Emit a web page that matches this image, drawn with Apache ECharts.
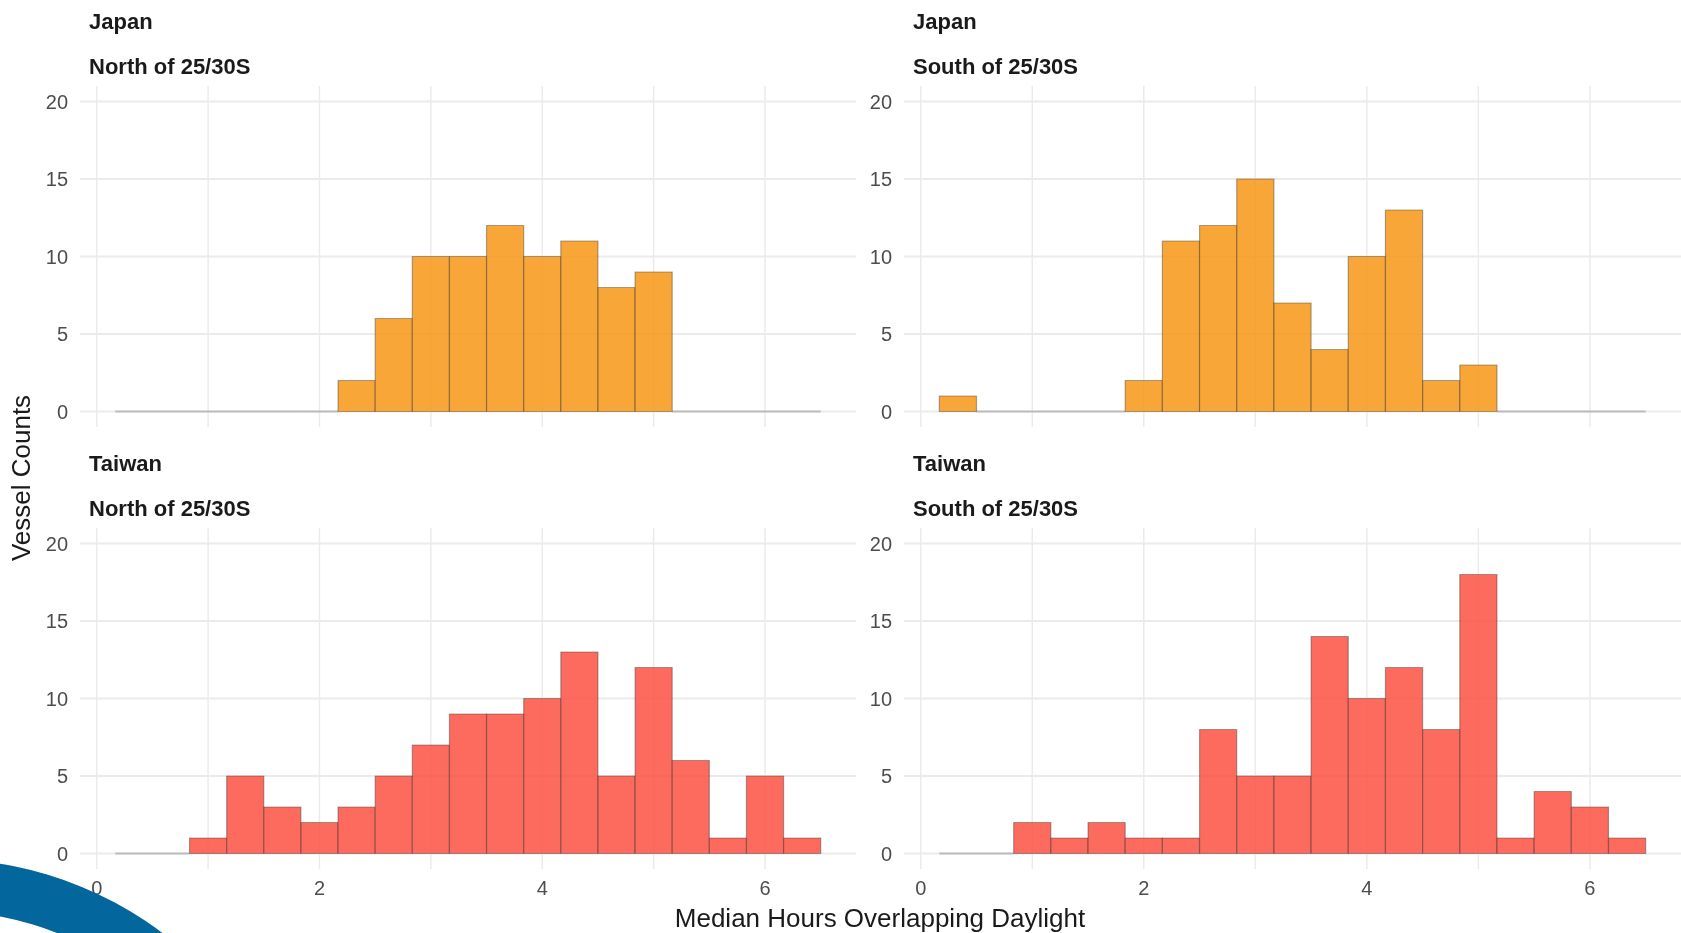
<!DOCTYPE html>
<html>
<head>
<meta charset="utf-8">
<script src="https://cdn.jsdelivr.net/npm/echarts@6/dist/echarts.min.js"></script>
<style>
  html, body { margin: 0; padding: 0; background: #ffffff; }
  #chart { width: 1681px; height: 933px; }
</style>
</head>
<body>
<div id="chart"></div>
<script>
// Histogram bins: each bin is 1/3 hour wide, the first one starts at 1/6 hour
const binStart = 1 / 6;
const binWidth = 1 / 3;

// Vessel counts per bin (19 bins, 1/6 h .. 6.5 h)
const japanNorth  = [0, 0, 0, 0, 0, 0, 2, 6, 10, 10, 12, 10, 11, 8, 9, 0, 0, 0, 0];
const japanSouth  = [1, 0, 0, 0, 0, 2, 11, 12, 15, 7, 4, 10, 13, 2, 3, 0, 0, 0, 0];
const taiwanNorth = [0, 0, 1, 5, 3, 2, 3, 5, 7, 9, 9, 10, 13, 5, 12, 6, 1, 5, 1];
const taiwanSouth = [0, 0, 2, 1, 2, 1, 1, 8, 5, 5, 14, 10, 12, 8, 18, 1, 4, 3, 1];

// Facet strip text
const fleetNames = ['Japan', 'Japan', 'Taiwan', 'Taiwan'];
const zoneNames = ['North of 25/30S', 'South of 25/30S', 'North of 25/30S', 'South of 25/30S'];

// Guide positions and tick labels
const xGridTicks = [0, 1, 2, 3, 4, 5, 6];
const xLabelTicks = [0, 2, 4, 6];
const yTicks = [0, 5, 10, 15, 20];

const xAxisTitle = 'Median Hours Overlapping Daylight';
const yAxisTitle = 'Vessel Counts';

// Panel extents (data range padded the way ggplot pads it)
const X_MIN = -0.15, X_MAX = 6.8167;
const Y_MIN = -1, Y_MAX = 21;

const FONT = '"Liberation Sans", Arial, Helvetica, sans-serif';
const ORANGE = 'rgba(248,151,22,0.85)';
const RED = 'rgba(251,81,66,0.85)';
const GRID_COLOR = '#EBEBEB';

const panels = [
  { counts: japanNorth,  fill: ORANGE, grid: { left: 80,  top: 86,  width: 776, height: 341 }, xLabels: false },
  { counts: japanSouth,  fill: ORANGE, grid: { left: 904, top: 86,  width: 777, height: 341 }, xLabels: false },
  { counts: taiwanNorth, fill: RED,    grid: { left: 80,  top: 528, width: 776, height: 341 }, xLabels: true },
  { counts: taiwanSouth, fill: RED,    grid: { left: 904, top: 528, width: 777, height: 341 }, xLabels: true }
];

const grids = [], xAxes = [], yAxes = [], series = [], graphics = [];

panels.forEach((p, k) => {
  grids.push(Object.assign({ containLabel: false }, p.grid));
  xAxes.push({ type: 'value', gridIndex: k, min: X_MIN, max: X_MAX, show: false });
  yAxes.push({ type: 'value', gridIndex: k, min: Y_MIN, max: Y_MAX, show: false });

  // guide lines + tick labels: kind 0 = vertical (x), kind 1 = horizontal (y)
  const guideData = xGridTicks.map(v => [v, 0]).concat(yTicks.map(v => [v, 1]));
  series.push({
    type: 'custom',
    xAxisIndex: k, yAxisIndex: k,
    z: 1,
    silent: true,
    data: guideData,
    renderItem: function (params, api) {
      const v = api.value(0);
      const kind = api.value(1);
      const children = [];
      if (kind === 0) {
        const a = api.coord([v, Y_MIN]);
        const b = api.coord([v, Y_MAX]);
        children.push({ type: 'line', shape: { x1: a[0], y1: a[1], x2: b[0], y2: b[1] },
          style: { stroke: GRID_COLOR, lineWidth: 1.5 } });
        if (p.xLabels && xLabelTicks.indexOf(v) >= 0) {
          children.push({ type: 'text', x: a[0], y: a[1] + 10,
            style: { text: String(v), fill: '#4D4D4D', font: '20px ' + FONT,
              textAlign: 'center', textVerticalAlign: 'top' } });
        }
      } else {
        const a = api.coord([X_MIN, v]);
        const b = api.coord([X_MAX, v]);
        children.push({ type: 'line', shape: { x1: a[0], y1: a[1], x2: b[0], y2: b[1] },
          style: { stroke: GRID_COLOR, lineWidth: 1.8 } });
        children.push({ type: 'text', x: a[0] - 12, y: a[1] + 1.5,
          style: { text: String(v), fill: '#4D4D4D', font: '20px ' + FONT,
            textAlign: 'right', textVerticalAlign: 'middle' } });
      }
      return { type: 'group', children: children };
    }
  });

  // histogram bars (empty bins show as a flat outline on the baseline)
  const barData = p.counts.map((c, i) => [binStart + i * binWidth, binStart + (i + 1) * binWidth, c]);
  series.push({
    type: 'custom',
    xAxisIndex: k, yAxisIndex: k,
    z: 2,
    data: barData,
    encode: { x: [0, 1], y: 2 },
    renderItem: function (params, api) {
      const count = api.value(2);
      const top = api.coord([api.value(0), count]);
      const base = api.coord([api.value(1), 0]);
      const empty = count === 0;
      return {
        type: 'rect',
        shape: { x: top[0], y: top[1], width: base[0] - top[0], height: base[1] - top[1] },
        style: empty
          ? { fill: 'none', stroke: 'rgba(60,60,60,0.28)', lineWidth: 2 }
          : { fill: p.fill, stroke: 'rgba(45,45,45,0.38)', lineWidth: 1.2 }
      };
    }
  });

  // facet strip labels
  const stripLeft = p.grid.left + 9;
  graphics.push({ type: 'text', x: stripLeft, y: p.grid.top - 63,
    style: { text: fleetNames[k], fill: '#1A1A1A', font: 'bold 22px ' + FONT, textVerticalAlign: 'middle' } });
  graphics.push({ type: 'text', x: stripLeft, y: p.grid.top - 18,
    style: { text: zoneNames[k], fill: '#1A1A1A', font: 'bold 22px ' + FONT, textVerticalAlign: 'middle' } });
});

// axis titles
graphics.push({ type: 'text', x: 880, y: 920,
  style: { text: xAxisTitle, fill: '#1A1A1A', font: '26px ' + FONT, textAlign: 'center', textVerticalAlign: 'middle' } });
graphics.push({ type: 'text', x: 23, y: 478, rotation: Math.PI / 2,
  style: { text: yAxisTitle, fill: '#1A1A1A', font: '26px ' + FONT, textAlign: 'center', textVerticalAlign: 'middle' } });

// blue corner band
graphics.push({ type: 'ring', z: 100, silent: true,
  shape: { cx: -58.6, cy: 1226, r: 367, r0: 315 },
  style: { fill: '#03679D' } });

const chart = echarts.init(document.getElementById('chart'), null, { renderer: 'canvas' });
chart.setOption({
  animation: false,
  backgroundColor: '#ffffff',
  grid: grids,
  xAxis: xAxes,
  yAxis: yAxes,
  series: series,
  graphic: graphics
});
</script>
</body>
</html>
